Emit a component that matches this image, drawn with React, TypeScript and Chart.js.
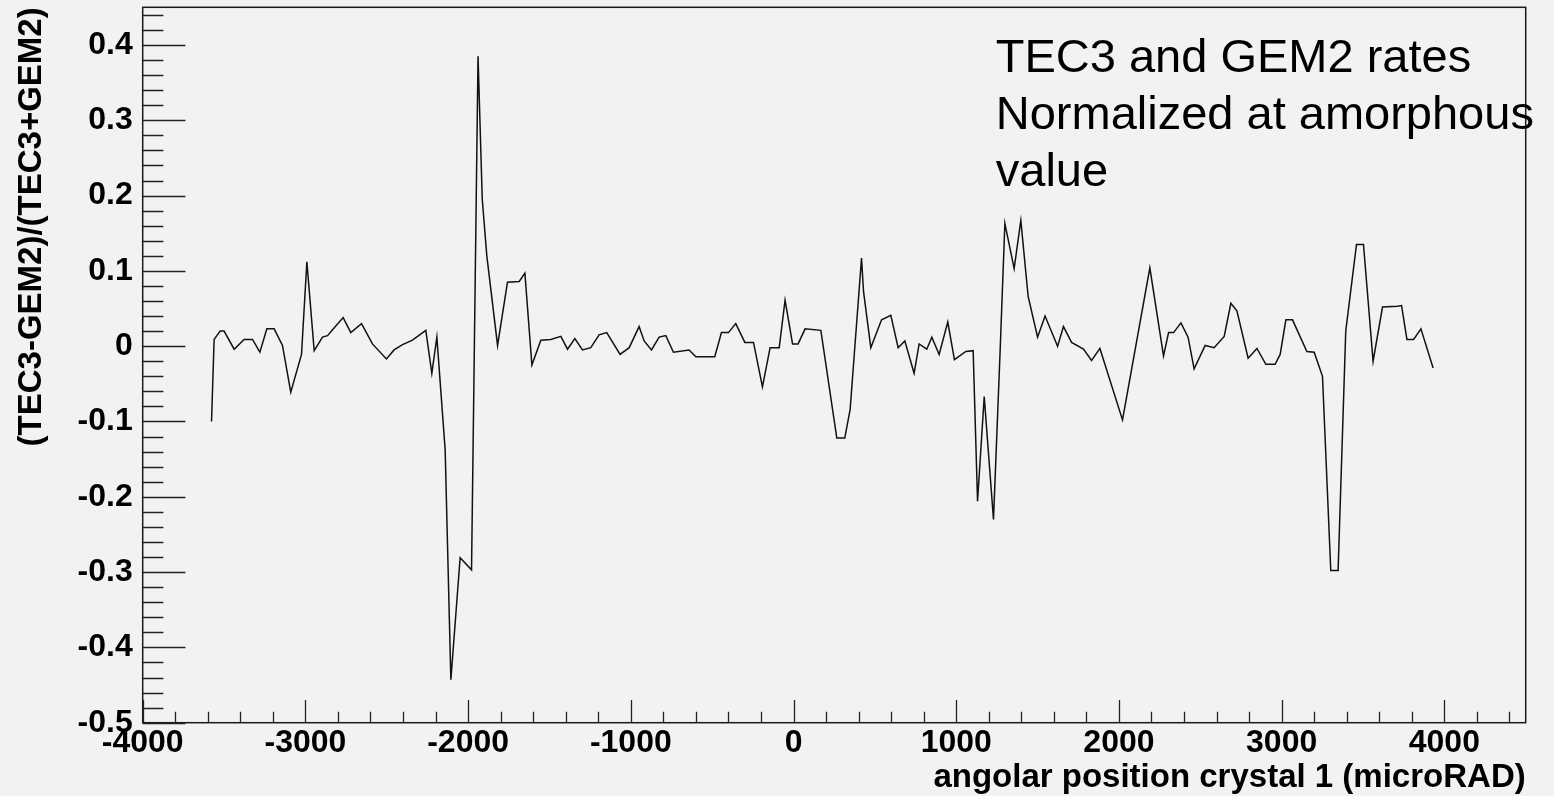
import React, { useEffect, useRef } from 'react';
import { Chart, registerables } from 'chart.js';

Chart.register(...registerables);

// angular position of crystal 1 (microRAD)
const xPositions = [
  -3577, -3561, -3524, -3500, -3438, -3377, -3325, -3280, -3237, -3192,
  -3141, -3090, -3024, -2991, -2946, -2895, -2864, -2824, -2768, -2721,
  -2655, -2588, -2502, -2455, -2403, -2342, -2260, -2223, -2192, -2141,
  -2106, -2049, -1979, -1939, -1913, -1885, -1819, -1758, -1686, -1651,
  -1608, -1553, -1492, -1430, -1389, -1344, -1297, -1246, -1195, -1148,
  -1066, -1010, -949, -918, -873, -826, -785, -738, -642, -600,
  -484, -443, -400, -355, -299, -246, -191, -144, -88, -52,
  -6, 28, 71, 168, 266, 315, 348, 418, 430, 475,
  541, 598, 643, 684, 741, 772, 819, 850, 895, 948,
  989, 1059, 1104, 1131, 1172, 1229, 1270, 1299, 1356, 1397,
  1442, 1500, 1546, 1623, 1659, 1709, 1782, 1832, 1883, 2022,
  2190, 2274, 2305, 2336, 2381, 2425, 2462, 2530, 2585, 2647,
  2688, 2725, 2794, 2848, 2903, 2960, 2991, 3026, 3067, 3155,
  3200, 3251, 3302, 3347, 3394, 3460, 3503, 3562, 3620, 3712,
  3737, 3770, 3811, 3856, 3931,
];

// (TEC3-GEM2)/(TEC3+GEM2)
const ratioValues = [
  -0.100, 0.009, 0.020, 0.020, -0.004, 0.009, 0.009, -0.008, 0.023, 0.023,
  0.001, -0.061, -0.011, 0.112, -0.006, 0.012, 0.014, 0.024, 0.038, 0.018,
  0.030, 0.003, -0.017, -0.005, 0.002, 0.008, 0.021, -0.036, 0.012, -0.138,
  -0.443, -0.281, -0.297, 0.385, 0.195, 0.120, 0.001, 0.085, 0.086, 0.097,
  -0.025, 0.008, 0.009, 0.013, -0.004, 0.010, -0.005, -0.002, 0.015, 0.018,
  -0.011, -0.002, 0.026, 0.007, -0.005, 0.012, 0.014, -0.008, -0.005, -0.014,
  -0.014, 0.018, 0.018, 0.030, 0.005, 0.005, -0.054, -0.002, -0.002, 0.061,
  0.003, 0.003, 0.023, 0.021, -0.122, -0.122, -0.084, 0.117, 0.073, -0.002,
  0.035, 0.041, -0.002, 0.007, -0.036, 0.003, -0.004, 0.012, -0.011, 0.032,
  -0.018, -0.007, -0.006, -0.206, -0.067, -0.230, -0.005, 0.163, 0.103, 0.167,
  0.066, 0.012, 0.040, 0.000, 0.026, 0.005, -0.004, -0.019, -0.003, -0.098,
  0.104, -0.013, 0.018, 0.018, 0.031, 0.012, -0.030, 0.001, -0.002, 0.013,
  0.057, 0.047, -0.016, -0.003, -0.024, -0.024, -0.011, 0.035, 0.035, -0.007,
  -0.008, -0.040, -0.298, -0.298, 0.020, 0.135, 0.135, -0.020, 0.052, 0.053,
  0.054, 0.009, 0.009, 0.023, -0.029,
];

const xMajorTicks = [-4000, -3000, -2000, -1000, 0, 1000, 2000, 3000, 4000];
const yMajorTicks = [-0.5, -0.4, -0.3, -0.2, -0.1, 0, 0.1, 0.2, 0.3, 0.4];
const xRange = [-4000, 4500];
const yRange = [-0.5, 0.45];
const xMinorStep = 200;
const yMinorStep = 0.02;

const xTitle = 'angolar position crystal 1 (microRAD)';
const yTitle = '(TEC3-GEM2)/(TEC3+GEM2)';
const annotationLines = ['TEC3 and GEM2 rates', 'Normalized at amorphous', 'value'];
const annotationAnchor = { x: 1243, y: 0.364 };

const BG = '#f2f2f2';
const FONT = '"Liberation Sans", Arial, Helvetica, sans-serif';

const rootFramePlugin = {
  id: 'rootFrame',
  beforeDraw(chart: any) {
    const { ctx, width, height } = chart;
    ctx.save();
    ctx.fillStyle = BG;
    ctx.fillRect(0, 0, width, height);
    ctx.restore();
  },
  afterDraw(chart: any) {
    const { ctx, chartArea: a } = chart;
    const xs = chart.scales.x;
    const ys = chart.scales.y;
    ctx.save();
    ctx.strokeStyle = '#1a1a1a';
    ctx.lineWidth = 1.5;
    ctx.strokeRect(a.left, a.top, a.right - a.left, a.bottom - a.top);

    ctx.lineWidth = 1.3;
    ctx.strokeStyle = '#222';
    ctx.beginPath();
    const nx = Math.round((xRange[1] - xRange[0]) / xMinorStep);
    for (let i = 0; i < nx; i++) {
      const v = xRange[0] + i * xMinorStep;
      const major = xMajorTicks.includes(v);
      const px = Math.round(xs.getPixelForValue(v)) + 0.5;
      const len = major ? 22.7 : 11;
      ctx.moveTo(px, a.bottom);
      ctx.lineTo(px, a.bottom - len);
    }
    const ny = Math.round((yRange[1] - yRange[0]) / yMinorStep);
    for (let i = 0; i < ny; i++) {
      const v = yRange[0] + i * yMinorStep;
      const major = yMajorTicks.some((t) => Math.abs(t - v) < 1e-6);
      const py = Math.round(ys.getPixelForValue(v)) + 0.5;
      const len = major ? 42.7 : 20.7;
      ctx.moveTo(a.left, py);
      ctx.lineTo(a.left + len, py);
    }
    ctx.stroke();

    ctx.fillStyle = '#000';
    ctx.font = `47px ${FONT}`;
    ctx.textAlign = 'left';
    ctx.textBaseline = 'alphabetic';
    const ax = xs.getPixelForValue(annotationAnchor.x);
    const ay = ys.getPixelForValue(annotationAnchor.y);
    annotationLines.forEach((line, i) => {
      ctx.fillText(line, ax, ay + i * 57);
    });
    ctx.restore();
  },
};

export default function App() {
  const canvasRef = useRef<HTMLCanvasElement | null>(null);

  useEffect(() => {
    document.body.style.margin = '0';
    document.body.style.background = BG;
    const canvas = canvasRef.current;
    if (!canvas) return;

    const chart = new Chart(canvas, {
      type: 'scatter',
      data: {
        datasets: [
          {
            data: xPositions.map((x, i) => ({ x, y: ratioValues[i] })),
            showLine: true,
            borderColor: '#111',
            borderWidth: 1.5,
            pointRadius: 0,
            pointHoverRadius: 0,
            tension: 0,
            fill: false,
          },
        ],
      },
      options: {
        animation: false,
        responsive: false,
        devicePixelRatio: 1,
        events: [],
        layout: { padding: { left: 0, right: 28.3, top: 7.3, bottom: 0 } },
        plugins: {
          legend: { display: false },
          tooltip: { enabled: false },
        },
        scales: {
          x: {
            type: 'linear',
            min: xRange[0],
            max: xRange[1],
            grid: { display: false, drawTicks: false },
            border: { display: false },
            afterBuildTicks: (s: any) => {
              s.ticks = xMajorTicks.map((v) => ({ value: v }));
            },
            afterFit: (s: any) => {
              s.height = 73.3;
              s.paddingLeft = 0;
              s.paddingRight = 0;
            },
            ticks: {
              autoSkip: false,
              maxRotation: 0,
              minRotation: 0,
              padding: 1,
              color: '#000',
              font: { family: FONT, size: 32, weight: 'bold' },
              callback: (v: any) => String(Math.round(Number(v))),
            },
            title: {
              display: true,
              text: xTitle,
              align: 'end',
              color: '#000',
              padding: { top: 0, bottom: 0 },
              font: { family: FONT, size: 33, weight: 'bold', lineHeight: 1.1 },
            },
          },
          y: {
            type: 'linear',
            min: yRange[0],
            max: yRange[1],
            grid: { display: false, drawTicks: false },
            border: { display: false },
            afterBuildTicks: (s: any) => {
              s.ticks = yMajorTicks.map((v) => ({ value: v }));
            },
            afterFit: (s: any) => {
              s.width = 142.7;
              s.paddingTop = 0;
              s.paddingBottom = 0;
            },
            ticks: {
              autoSkip: false,
              padding: 10,
              color: '#000',
              font: { family: FONT, size: 32, weight: 'bold' },
              callback: (v: any) => {
                const n = Number(v);
                return Math.abs(n) < 1e-9 ? '0' : n.toFixed(1);
              },
            },
            title: {
              display: true,
              text: yTitle,
              align: 'end',
              color: '#000',
              padding: { top: 14, bottom: 0 },
              font: { family: FONT, size: 33, weight: 'bold', lineHeight: 1.1 },
            },
          },
        },
      },
      plugins: [rootFramePlugin],
    } as any);

    return () => chart.destroy();
  }, []);

  return (
    <canvas
      ref={canvasRef}
      width={1554}
      height={796}
      style={{ display: 'block', width: '1554px', height: '796px' }}
    />
  );
}
